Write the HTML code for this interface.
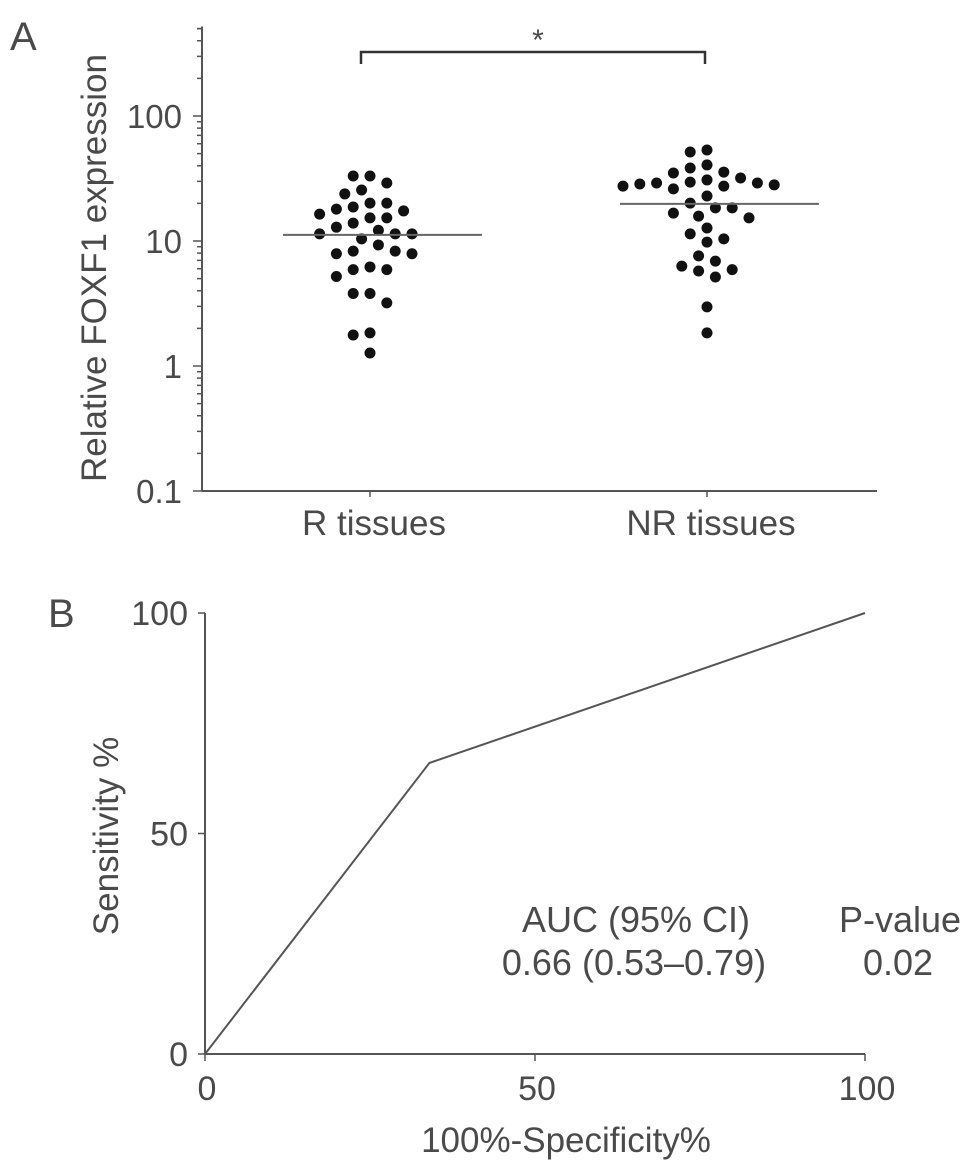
<!DOCTYPE html>
<html><head><meta charset="utf-8">
<style>
html,body{margin:0;padding:0;background:#fff;}
svg{display:block;font-family:"Liberation Sans",sans-serif;}
text{fill:#4a4a4a;}
</style></head>
<body>
<svg id="fig" width="969" height="1172" viewBox="0 0 969 1172">
<g id="panelA"></g>
<g id="panelB"></g>
</svg>
<script>
// ---- Panel A data ----
const categoriesA = ["R tissues", "NR tissues"];
const rValues = [33.1,29.1,33.1,25.6,23.8,20.1,20.1,18.0,18.7,17.4,16.4,15.3,15.3,13.9,12.9,12.2,11.4,11.4,11.4,10.4,9.3,8.3,7.9,7.9,8.3,6.2,5.9,5.2,5.9,3.8,3.8,3.2,1.84,1.77,1.27];
const nrValues = [53.5,51.5,40.6,38.4,35.6,35.0,31.9,30.8,29.6,29.1,29.1,28.6,28.1,27.5,27.5,26.1,22.9,20.1,18.4,18.4,16.7,15.8,15.3,12.7,11.4,10.4,9.8,7.6,6.9,6.3,5.9,5.75,5.15,2.97,1.84];
const medians = [11.2, 19.8];
const yTicksA = [0.1, 1, 10, 100];
const yTickLabelsA = ["0.1", "1", "10", "100"];
// ---- Panel B data ----
const rocSpec = [0, 34, 100];
const rocSens = [0, 66, 100];
const ticksB = [0, 50, 100];

const NS = "http://www.w3.org/2000/svg";
function mk(parent, tag, attrs, txt){
  const e = document.createElementNS(NS, tag);
  for (const k in attrs) e.setAttribute(k, attrs[k]);
  if (txt !== undefined) e.textContent = txt;
  parent.appendChild(e);
  return e;
}
const STROKE = "#555";

// ===== Panel A =====
const A = document.getElementById("panelA");
const axX = 202, yBottom = 491, decade = 125;
function yA(v){ return yBottom - decade * Math.log10(v / 0.1); }
const catX = [370, 707];

let t = mk(A, "text", {x: 10, y: 50, "font-size": 40}, "A");



let l = mk(A, "line", {x1: axX, y1: yA(520), x2: axX, y2: yBottom, stroke: STROKE, "stroke-width": 2});


for (let d = 0; d < 4; d++) {
  const base = Math.pow(10, d - 1);
  for (let m = 1; m <= 9; m++) {
    const v = base * m;
    if (v > 520) break;
    const len = m === 1 ? 9 : 5;
    const tk = mk(A, "line", {x1: axX - len, y1: yA(v), x2: axX, y2: yA(v), stroke: STROKE, "stroke-width": 1.5});
    
    
  }
}
const tk5 = mk(A, "line", {x1: axX - 5, y1: yA(500), x2: axX, y2: yA(500), stroke: STROKE, "stroke-width": 1.5});


yTicksA.forEach((v, i) => {
  const tl = mk(A, "text", {x: 182, y: yA(v) + 12, "font-size": 33, "text-anchor": "end"}, yTickLabelsA[i]);
  
  
});
const yt = mk(A, "text", {x: 0, y: 0, "font-size": 35, "text-anchor": "middle", transform: "translate(106,268) rotate(-90)"}, "Relative FOXF1 expression");



l = mk(A, "line", {x1: axX, y1: yBottom, x2: 877, y2: yBottom, stroke: STROKE, "stroke-width": 2});


categoriesA.forEach((c, i) => {
  const tk = mk(A, "line", {x1: catX[i], y1: yBottom, x2: catX[i], y2: yBottom + 6, stroke: STROKE, "stroke-width": 1.5});
  
  
  const tl = mk(A, "text", {x: catX[i] + 4, y: 535, "font-size": 35, "text-anchor": "middle"}, c);
  
  
});

function swarm(values, cx, gname) {
  const g = mk(A, "g", {});
  
  
  const sorted = values.slice().sort((a, b) => b - a);
  const placed = [];
  const step = 8.4, minD = 14;
  sorted.forEach(v => {
    const y = yA(v);
    let chosen = cx;
    for (let k = 0; k < 40; k++) {
      const offs = k === 0 ? [0] : [-k * step, k * step];
      let ok = null;
      for (const o of offs) {
        const x = cx + o;
        if (placed.every(p => Math.hypot(p[0] - x, p[1] - y) >= minD)) { ok = x; break; }
      }
      if (ok !== null) { chosen = ok; break; }
    }
    placed.push([chosen, y]);
    const c = mk(g, "circle", {cx: chosen, cy: y, r: 5.5, fill: "#111"});
    
    
  });
}
swarm(rValues, catX[0], "r-tissues-points");
swarm(nrValues, catX[1], "nr-tissues-points");
medians.forEach((m, i) => {
  const ml = mk(A, "line", {x1: catX[i] - 87, y1: yA(m), x2: catX[i] + 112, y2: yA(m), stroke: "#666", "stroke-width": 2});
  
  
});
const br = mk(A, "path", {d: "M361 64 V52 H705 V64", fill: "none", stroke: "#333", "stroke-width": 2.5});


const st = mk(A, "text", {x: 538, y: 50, "font-size": 30, "text-anchor": "middle"}, "*");



// ===== Panel B =====
const B = document.getElementById("panelB");
const bx0 = 205, bx1 = 865, by0 = 1054, by1 = 613;
function xB(v){ return bx0 + (bx1 - bx0) * v / 100; }
function yB(v){ return by0 - (by0 - by1) * v / 100; }
t = mk(B, "text", {x: 48, y: 627, "font-size": 40}, "B");


l = mk(B, "line", {x1: bx0, y1: by1, x2: bx0, y2: by0, stroke: STROKE, "stroke-width": 2});


l = mk(B, "line", {x1: bx0, y1: by0, x2: bx1, y2: by0, stroke: STROKE, "stroke-width": 2});


ticksB.forEach(v => {
  let tk = mk(B, "line", {x1: bx0 - 7, y1: yB(v), x2: bx0, y2: yB(v), stroke: STROKE, "stroke-width": 1.5});
  
  
  tk = mk(B, "line", {x1: xB(v), y1: by0, x2: xB(v), y2: by0 + 7, stroke: STROKE, "stroke-width": 1.5});
  
  
  let tl = mk(B, "text", {x: 188, y: yB(v) + 12, "font-size": 34, "text-anchor": "end"}, String(v));
  
  
  tl = mk(B, "text", {x: xB(v) + 2, y: 1100, "font-size": 34, "text-anchor": "middle"}, String(v));
  
  
});
const ytb = mk(B, "text", {x: 0, y: 0, "font-size": 35, "text-anchor": "middle", transform: "translate(118,836) rotate(-90)"}, "Sensitivity %");


const xtb = mk(B, "text", {x: 566, y: 1152, "font-size": 35, "text-anchor": "middle"}, "100%-Specificity%");


const pts = rocSpec.map((s, i) => xB(s) + "," + yB(rocSens[i])).join(" ");
const roc = mk(B, "polyline", {points: pts, fill: "none", stroke: "#555", "stroke-width": 2});


const a1 = mk(B, "text", {x: 636, y: 932, "font-size": 36, "text-anchor": "middle"}, "AUC (95% CI)");


const a2 = mk(B, "text", {x: 634, y: 975, "font-size": 36, "text-anchor": "middle"}, "0.66 (0.53–0.79)");


const p1 = mk(B, "text", {x: 900, y: 932, "font-size": 36, "text-anchor": "middle"}, "P-value");


const p2 = mk(B, "text", {x: 898, y: 975, "font-size": 36, "text-anchor": "middle"}, "0.02");


</script>
</body></html>
